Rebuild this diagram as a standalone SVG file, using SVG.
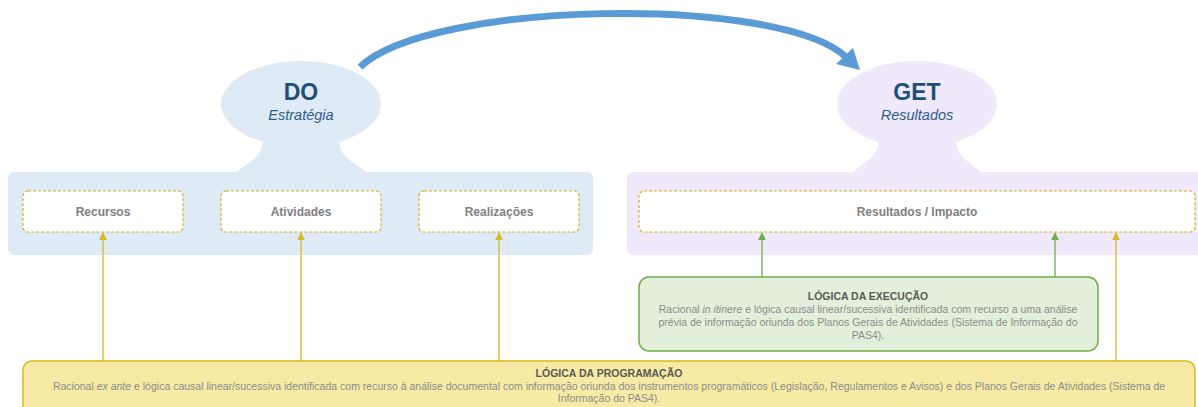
<svg xmlns="http://www.w3.org/2000/svg" width="1198" height="407" viewBox="0 0 1198 407">
<defs>
<style>
.txt{font-family:"Liberation Sans",Arial,sans-serif}
.head{font-size:23px;font-weight:bold;fill:#1f4e79;text-anchor:middle}
.sub{font-size:14.5px;font-style:italic;fill:#2e5d8a;text-anchor:middle}
.box{fill:#ffffff;stroke:#d4b21c;stroke-width:1.2;stroke-dasharray:3 2}
.lbl{font-size:12px;font-weight:bold;fill:#7f7f7f;text-anchor:middle}
.ttl{font-size:10.5px;font-weight:bold;fill:#595959;text-anchor:middle}
.body{font-size:10.5px;fill:#8c8c8c;text-anchor:middle}
.ya{stroke:#d6b81f;stroke-width:1.3;fill:none}
.ga{stroke:#70ad47;stroke-width:1.3;fill:none}
</style>
<marker id="ah-y" viewBox="0 0 10 10" refX="9" refY="5" markerWidth="8" markerHeight="8" markerUnits="userSpaceOnUse" orient="auto">
<path d="M0,0 L10,5 L0,10 Z" fill="#d6b81f"/>
</marker>
<marker id="ah-g" viewBox="0 0 10 10" refX="9" refY="5" markerWidth="8" markerHeight="8" markerUnits="userSpaceOnUse" orient="auto">
<path d="M0,0 L10,5 L0,10 Z" fill="#70ad47"/>
</marker>
</defs>

<g id="do">
<rect x="8" y="172" width="585" height="83" rx="6" fill="#deeaf6"/>
<path d="M236 173 C250 160 263 158 263 138 L339 138 C339 158 352 160 367 173 Z" fill="#deeaf6"/>
<ellipse cx="301" cy="104" rx="80" ry="43" fill="#deeaf6"/>
<text class="txt head" x="301" y="100">DO</text>
<text class="txt sub" x="301" y="120">Estratégia</text>
</g>

<g id="get">
<rect x="627" y="172" width="590" height="83" rx="6" fill="#efe9fb"/>
<path d="M852 173 C866 160 879 158 879 138 L956 138 C956 158 968 160 982 173 Z" fill="#efe9fb"/>
<ellipse cx="917" cy="104" rx="80" ry="43" fill="#efe9fb"/>
<text class="txt head" x="917" y="100">GET</text>
<text class="txt sub" x="917" y="120">Resultados</text>
</g>

<g id="recursos">
<rect class="box" x="23" y="191" width="160" height="41" rx="5"/>
<text class="txt lbl" x="103" y="216">Recursos</text>
</g>
<g id="atividades">
<rect class="box" x="221" y="191" width="160" height="41" rx="5"/>
<text class="txt lbl" x="301" y="216">Atividades</text>
</g>
<g id="realizacoes">
<rect class="box" x="419" y="191" width="160" height="41" rx="5"/>
<text class="txt lbl" x="499" y="216">Realizações</text>
</g>
<g id="resultados">
<rect class="box" x="639" y="191" width="556" height="41" rx="5"/>
<text class="txt lbl" x="917" y="216">Resultados / Impacto</text>
</g>

<g id="execucao">
<rect x="639" y="277" width="459" height="74" rx="10" fill="#e2efda" stroke="#70ad47" stroke-width="1.5"/>
<text class="txt ttl" x="868" y="300">LÓGICA DA EXECUÇÃO</text>
<text class="txt body" x="868" y="313">Racional <tspan font-style="italic">in itinere</tspan> e lógica causal linear/sucessiva identificada com recurso a uma análise</text>
<text class="txt body" x="868" y="326">prévia de informação oriunda dos Planos Gerais de Atividades (Sistema de Informação do</text>
<text class="txt body" x="868" y="339">PAS4).</text>
</g>

<g id="programacao">
<rect x="23" y="361" width="1172" height="60" rx="9" fill="#f6eaa5" stroke="#d6b81f" stroke-width="1.5"/>
<text class="txt ttl" x="609" y="377">LÓGICA DA PROGRAMAÇÃO</text>
<text class="txt body" x="609" y="390">Racional <tspan font-style="italic">ex ante</tspan> e lógica causal linear/sucessiva identificada com recurso à análise documental com informação oriunda dos instrumentos programáticos (Legislação, Regulamentos e Avisos) e dos Planos Gerais de Atividades (Sistema de</text>
<text class="txt body" x="609" y="402">Informação do PAS4).</text>
</g>

<g id="connectors">
<path d="M360 67 C430 0 780 -5 846 57" fill="none" stroke="#5b9bd5" stroke-width="7"/>
<polygon points="860,70 836,64 853,48" fill="#5b9bd5"/>
<line class="ya" x1="103" y1="361" x2="103" y2="233" marker-end="url(#ah-y)"/>
<line class="ya" x1="301" y1="361" x2="301" y2="233" marker-end="url(#ah-y)"/>
<line class="ya" x1="499" y1="361" x2="499" y2="233" marker-end="url(#ah-y)"/>
<line class="ya" x1="1116" y1="361" x2="1116" y2="233" marker-end="url(#ah-y)"/>
<line class="ga" x1="762" y1="277" x2="762" y2="233" marker-end="url(#ah-g)"/>
<line class="ga" x1="1055" y1="277" x2="1055" y2="233" marker-end="url(#ah-g)"/>
</g>
</svg>
